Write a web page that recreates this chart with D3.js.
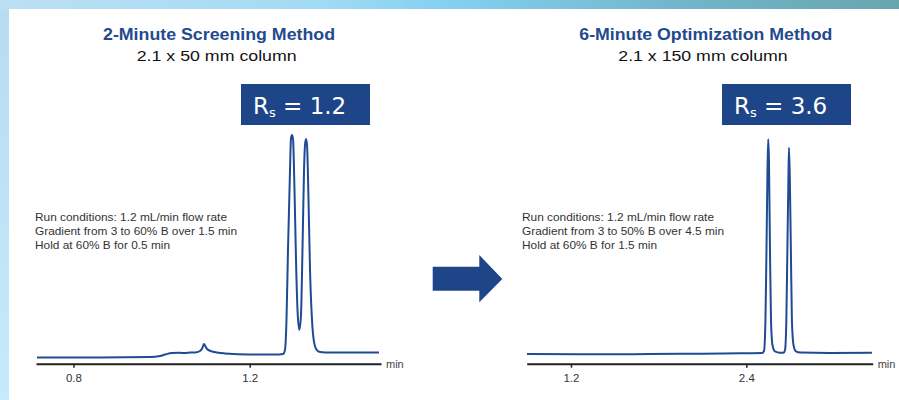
<!DOCTYPE html>
<html>
<head>
<meta charset="utf-8">
<script src="https://cdn.jsdelivr.net/npm/d3@7"></script>
<style>
html,body{margin:0;padding:0;background:#fff;}
svg{display:block;}
</style>
</head>
<body>
<svg id="chart" width="899" height="400"></svg>
<script>
// ---------- DATA ----------
const titles = ["2-Minute Screening Method", "6-Minute Optimization Method"];
const subtitles = ["2.1 x 50 mm column", "2.1 x 150 mm column"];
const resolutions = ["1.2", "3.6"];
const conditionsLeft = ["Run conditions: 1.2 mL/min flow rate", "Gradient from 3 to 60% B over 1.5 min", "Hold at 60% B for 0.5 min"];
const conditionsRight = ["Run conditions: 1.2 mL/min flow rate", "Gradient from 3 to 50% B over 4.5 min", "Hold at 60% B for 1.5 min"];
const ticksLeft = [0.8, 1.2];
const ticksRight = [1.2, 2.4];
const axisUnit = "min";

// time (min)
const timeLeft = [0.7173,0.8603,0.9737,0.9964,1.0078,1.0237,1.0400,1.0532,1.0650,1.0759,1.0872,1.0920,1.0963,1.1000,1.1031,1.1145,1.1440,1.2007,1.2574,1.2756,1.2801,1.2835,1.2869,1.2915,1.2937,1.2960,1.2983,1.3017,1.3051,1.3085,1.3126,1.3164,1.3198,1.3233,1.3255,1.3278,1.3301,1.3335,1.3369,1.3414,1.3460,1.3521,1.3596,1.3823,1.4935];
// signal (relative units)
const signalLeft = [-0.2,-0.2,0,0.45,1.1,1.8,1.9,1.8,2.0,2.0,2.7,3.8,5.9,4.6,3.6,2.5,1.6,1.1,1.1,1.35,3.2,16.7,48.2,84.2,98.6,100,98.2,75.2,43.7,21.2,12.2,18.9,48.2,84.2,95.5,98.2,95.5,70.7,39.2,16.7,6.8,3.2,2.25,2.0,2.0];

const timeRight = [0.899,1.399,1.741,2.085,2.357,2.508,2.521,2.531,2.538,2.545,2.550,2.555,2.562,2.569,2.579,2.596,2.631,2.655,2.665,2.674,2.681,2.688,2.692,2.698,2.705,2.712,2.723,2.740,2.768,2.973,3.260];
const signalRight = [1.35,1.2,1.35,1.5,1.7,1.8,2.7,16.7,48.2,84.2,98.1,88.7,48.2,16.7,5.4,2.5,1.9,1.95,3.2,16.7,48.2,79.7,94.3,79.7,48.2,16.7,5.4,2.5,2.0,1.8,1.9];

// ---------- DRAW ----------
const svg = d3.select("#chart");
const FONT = "'Liberation Sans', Arial, sans-serif";
const BLUE = "#1f4589";
const TRACE = "#1f4a94";

function fit(sel, w){
  sel.attr("textLength", w).attr("lengthAdjust","spacingAndGlyphs");
  return sel;
}

// background frame
const defs = svg.append("defs");
const gTop = defs.append("linearGradient").attr("id","topbar").attr("x1","0").attr("x2","1").attr("y1","0").attr("y2","0");
gTop.append("stop").attr("offset","0").attr("stop-color","#bcdff4");
gTop.append("stop").attr("offset","0.35").attr("stop-color","#a2dbf4");
gTop.append("stop").attr("offset","0.5").attr("stop-color","#84d0f0");
gTop.append("stop").attr("offset","0.75").attr("stop-color","#72b6cc");
gTop.append("stop").attr("offset","1").attr("stop-color","#68a6ae");
const gLeft = defs.append("linearGradient").attr("id","leftbar").attr("x1","0").attr("x2","0").attr("y1","0").attr("y2","1");
gLeft.append("stop").attr("offset","0").attr("stop-color","#b8dbf1");
gLeft.append("stop").attr("offset","1").attr("stop-color","#c6e9fb");
svg.append("rect").attr("x",0).attr("y",0).attr("width",899).attr("height",400).attr("fill","#fff");
svg.append("rect").attr("x",0).attr("y",0).attr("width",9).attr("height",400).attr("fill","url(#leftbar)");
svg.append("rect").attr("x",0).attr("y",0).attr("width",899).attr("height",9).attr("fill","url(#topbar)");

const yScale = d3.scaleLinear().domain([0,100]).range([357,135]);

function panel(opts){
  const g = svg.append("g");
  fit(g.append("text").attr("x",opts.titleX).attr("y",39.7)
    .attr("font-family",FONT).attr("font-weight","bold").attr("font-size","16px").attr("fill","#234a8f")
    .text(opts.title), opts.titleW);
  fit(g.append("text").attr("x",opts.subX).attr("y",61)
    .attr("font-family",FONT).attr("font-size","15.5px").attr("fill","#111")
    .text(opts.subtitle), opts.subW);
  // Rs box
  g.append("rect").attr("x",opts.boxX).attr("y",84).attr("width",129).attr("height",41).attr("fill",BLUE);
  const t = g.append("text").attr("x",opts.boxX+12).attr("y",114.3)
    .attr("font-family","'DejaVu Sans', Verdana, sans-serif").attr("font-size","23px").attr("fill","#fff");
  t.append("tspan").text("R");
  t.append("tspan").attr("font-size","13px").attr("dy",2.5).text("s");
  t.append("tspan").attr("dy",-2.5).text(" = " + opts.rs);
  // conditions
  opts.cond.forEach((s,i)=>{
    fit(g.append("text").attr("x",opts.condX).attr("y",220.5+i*14.2)
      .attr("font-family",FONT).attr("font-size","11.2px").attr("fill","#333").text(s), opts.condW[i]);
  });
  // axis
  const x = d3.scaleLinear().domain(opts.domain).range(opts.range);
  const ax = g.append("g").attr("transform","translate(0,363.7)")
    .call(d3.axisBottom(x).tickValues(opts.ticks).tickFormat(d3.format(".1f")).tickSize(4).tickSizeOuter(0).tickPadding(6.5));
  ax.select(".domain").attr("stroke","#222").attr("stroke-width",2);
  ax.selectAll(".tick line").attr("stroke","#222").attr("stroke-width",1.5);
  ax.selectAll(".tick text").attr("font-family",FONT).attr("font-size","11.5px").attr("fill","#333");
  g.append("text").attr("x",opts.range[1]+5).attr("y",368).attr("font-family",FONT)
    .attr("font-size","11px").attr("fill","#444").text(axisUnit);
  // trace
  const pts = opts.time.map((d,i)=>[d, opts.signal[i]]);
  g.append("path").datum(pts)
    .attr("d", d3.line().x(d=>x(d[0])).y(d=>yScale(d[1])).curve(d3.curveMonotoneX))
    .attr("fill","none").attr("stroke",TRACE).attr("stroke-width",2).attr("stroke-linejoin","round");
}

panel({titleX:103, titleW:232, subX:136.7, subW:160, boxX:241, rs:resolutions[0], cond:conditionsLeft, condX:35, condW:[192,202,135],
  title:titles[0], subtitle:subtitles[0],
  domain:[0.715,1.498], range:[36,381], ticks:ticksLeft, time:timeLeft, signal:signalLeft});
panel({titleX:579.3, titleW:253, subX:618.3, subW:169.4, boxX:722, rs:resolutions[1], cond:conditionsRight, condX:522, condW:[192,202,135],
  title:titles[1], subtitle:subtitles[1],
  domain:[0.897,3.265], range:[526.7,872.7], ticks:ticksRight, time:timeRight, signal:signalRight});

// arrow
svg.append("path")
  .attr("d","M432.7,266.7 L479.3,266.7 L479.3,255 L502.3,279 L479.3,302.3 L479.3,290.7 L432.7,290.7 Z")
  .attr("fill",BLUE);
</script>
</body>
</html>
